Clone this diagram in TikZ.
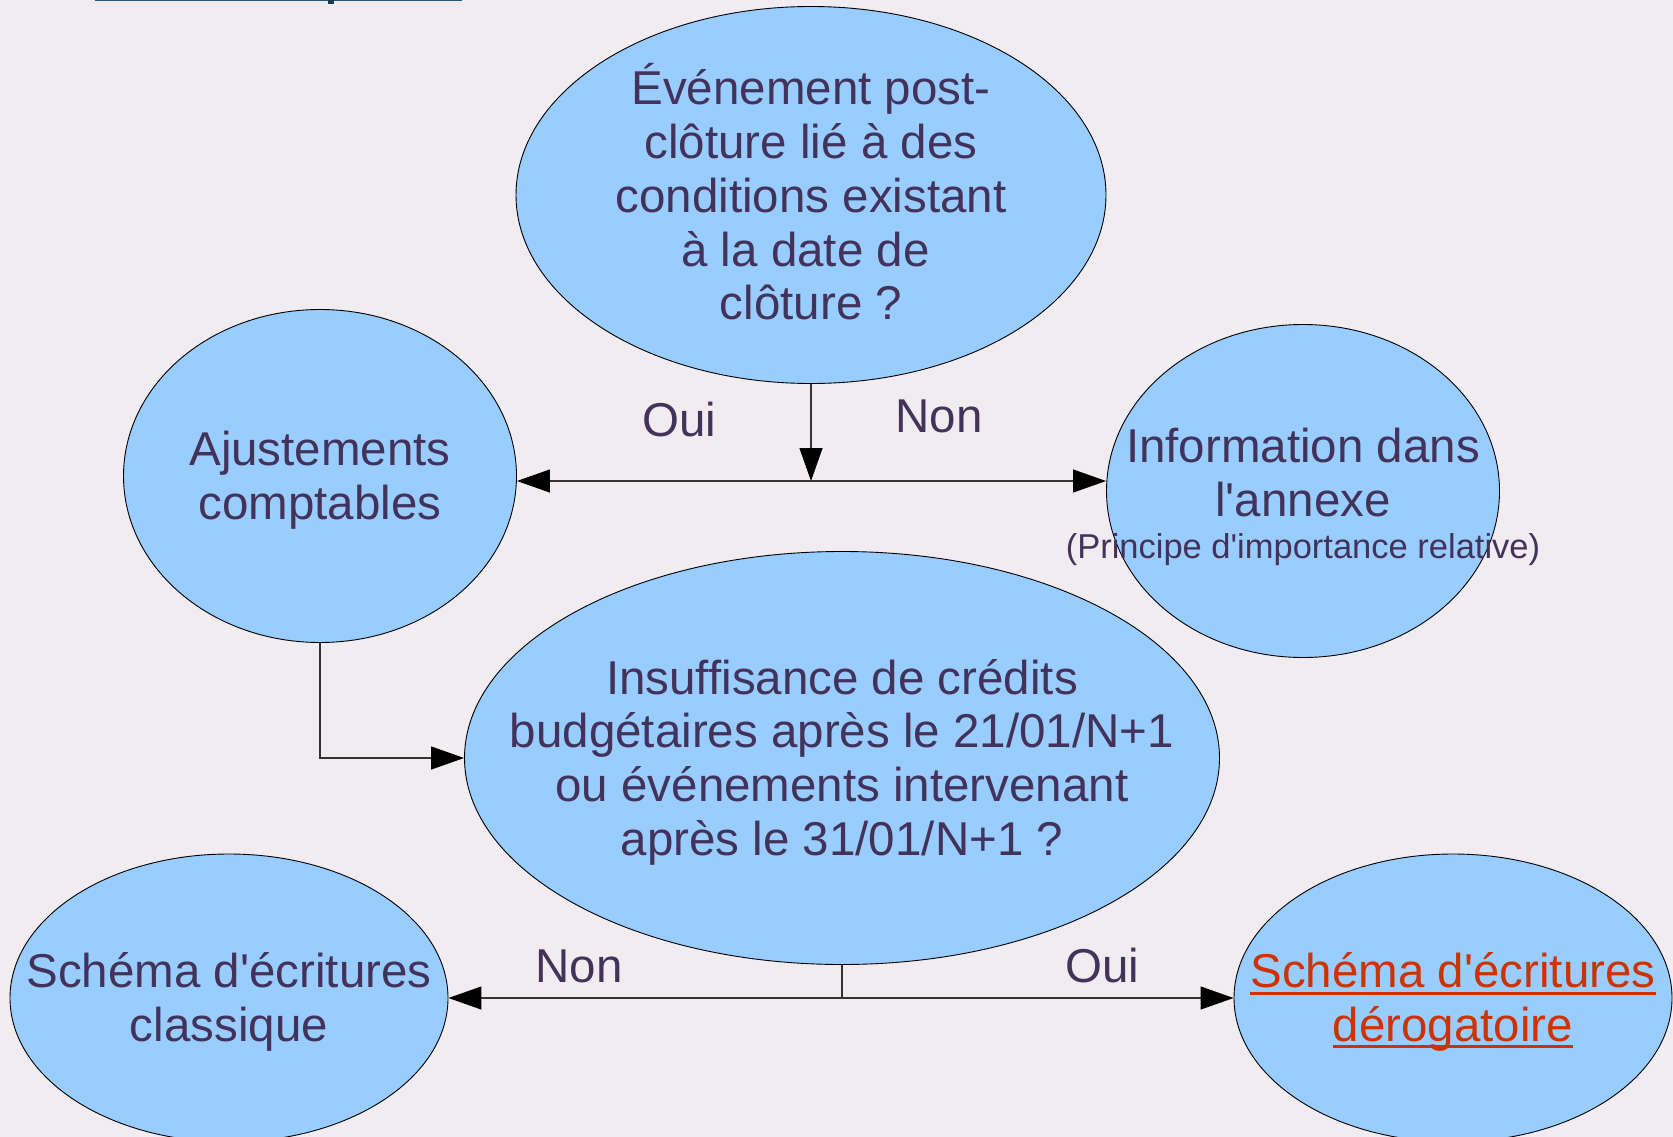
\documentclass[tikz,border=0pt]{standalone}
\usepackage{fontspec}
\setmainfont{Liberation Sans}[Ligatures=TeXOff]
\usetikzlibrary{shapes.geometric,arrows.meta}
\definecolor{bg}{HTML}{F0ECF0}
\definecolor{bubblefill}{HTML}{99CCFF}
\definecolor{ink}{HTML}{43335A}
\definecolor{linkred}{HTML}{CC3300}
\definecolor{headteal}{HTML}{245A7A}
\newcommand{\myul}[1]{\setbox0\hbox{#1}\rlap{\rule[-7pt]{\wd0}{3pt}}\box0}
\tikzset{
 bubble/.style={ellipse, draw=black, line width=0.9pt, fill=bubblefill, inner sep=0pt},
 txt/.style={text=ink, align=center, font=\fontsize{47.5}{53.7}\selectfont, inner sep=0pt},
 lbl/.style={text=ink, font=\fontsize{47.5}{53.7}\selectfont, inner sep=0pt},
 conn/.style={line width=1.2pt, draw=black!80},
 arr/.style={-{Triangle[length=33pt,width=23pt,color=black]}},
}
\begin{document}
\begin{tikzpicture}[x=1pt,y=-1pt]
\fill[bg] (0,0) rectangle (1673,1137);
\useasboundingbox (0,0) rectangle (1673,1137);
% cut-off heading underline
\fill[headteal] (95,0) rectangle (462,1.5);
\fill[headteal!70!black] (328,0) rectangle (334,4);

% ellipses
\node[bubble, minimum width=590pt, minimum height=377pt] (top) at (811,195) {};
\node[bubble, minimum width=393pt, minimum height=333pt] (adj) at (320,476) {};
\node[bubble, minimum width=393pt, minimum height=333pt] (info) at (1303,491) {};
\node[bubble, minimum width=755pt, minimum height=413pt] (mid) at (842,758) {};
\node[bubble, minimum width=438pt, minimum height=288pt] (bl) at (229,998) {};
\node[bubble, minimum width=438pt, minimum height=288pt] (br) at (1453,998) {};

% texts
\node[txt] (topt) at (811,192) {Événement post-\\clôture lié à des\\conditions existant\\à la date de\kern11pt\\clôture ?};
\node[txt] (adjt) at (320,480) {Ajustements\\comptables};
\node[txt] (infot) at (1303,497) {Information dans\\l'annexe\\[-12pt]{\fontsize{34.5}{40}\selectfont (Principe d'importance relative)}};
\node[txt] (midt) at (842,762) {Insuffisance de crédits\\budgétaires après le 21/01/N+1\\ou événements intervenant\\après le 31/01/N+1 ?};
\node[txt] (blt) at (229,1002) {Schéma d'écritures\\classique};
\node[txt, text=linkred] (brt) at (1453,1002) {\myul{Schéma d'écritures}\\\myul{dérogatoire}};

% connectors
\coordinate (j1) at (811,481);
\coordinate (j2) at (842,998);
\draw[conn, arr] (top.south) -- (j1);
\draw[conn, arr] (j1) -- (j1 -| adj.east);
\draw[conn, arr] (j1) -- (j1 -| info.west);
\draw[conn, arr] (adj.south) |- (mid.west);
\draw[conn] (mid.south) -- (j2);
\draw[conn, arr] (j2) -- (bl.east);
\draw[conn, arr] (j2) -- (br.west);

% labels
\node[lbl] (oui1) at (679,420) {Oui};
\node[lbl] (non1) at (939,416) {Non};
\node[lbl] (non2) at (579,966) {Non};
\node[lbl] (oui2) at (1102,966) {Oui};
\end{tikzpicture}
\end{document}
